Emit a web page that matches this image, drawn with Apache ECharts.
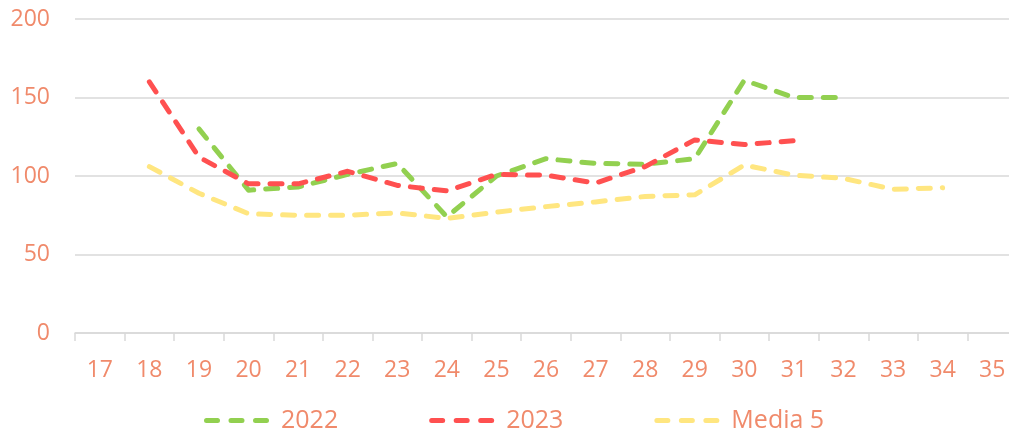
<!DOCTYPE html>
<html>
<head>
<meta charset="utf-8">
<script src="https://cdn.jsdelivr.net/npm/echarts@6/dist/echarts.min.js"></script>
<style>html,body{margin:0;padding:0;background:#fff}#c{width:1009px;height:432px}</style>
</head>
<body>
<div id="c"></div>
<script>
const categories = ['17','18','19','20','21','22','23','24','25','26','27','28','29','30','31','32','33','34','35'];
const s2022 = [null, null, 130, 91, 93, 101, 108, 74, 100, 111, 108, 107.5, 111, 161, 150, 150, null, null, null];
const s2023 = [null, 160, 112, 95, 95, 103, 94, 90.5, 101, 100.5, 95.5, 106, 123, 120, 122.5, null, null, null, null];
const sMedia5 = [null, 106, 89, 76, 75, 75, 76.5, 73, 77, 80.5, 83.5, 87, 88, 107, 100.5, 98.5, 91.5, 92.5, null];
const names = ['2022', '2023', 'Media 5'];
const colors = ['#92D050', '#FF5050', '#FFE680'];
const textColor = '#F08A6B';
const font = '"Open Sans", "Noto Sans", sans-serif';

// legend icon: three rounded dashes
function dash(x0) {
  return 'M' + (x0 + 2.5) + ',0 h11 a2.5,2.5 0 0 1 0,5 h-11 a2.5,2.5 0 0 1 0,-5 Z ';
}
const legendIcon = 'path://' + dash(0) + dash(24.5) + dash(49);

const chart = echarts.init(document.getElementById('c'), null, {renderer: 'canvas'});
const mk = (name, data, color) => ({
  name, type: 'line', data, symbol: 'none', smooth: false, connectNulls: false,
  lineStyle: {color, width: 5, type: [12, 12], cap: 'round', join: 'round'},
  itemStyle: {color}
});
chart.setOption({
  animation: false,
  color: colors,
  grid: {left: 75, width: 942, top: 19, bottom: 99, containLabel: false, outerBoundsMode: 'none'},
  xAxis: {
    type: 'category', data: categories, boundaryGap: true,
    axisLine: {lineStyle: {color: '#D9D9D9', width: 1.5}},
    axisTick: {show: true, length: 8, lineStyle: {color: '#D9D9D9', width: 1.5}},
    axisLabel: {color: textColor, fontSize: 23, fontFamily: font, margin: 26, interval: 0}
  },
  yAxis: {
    type: 'value', min: 0, max: 200, interval: 50,
    axisLine: {show: false}, axisTick: {show: false},
    splitLine: {lineStyle: {color: '#D9D9D9', width: 1.5}},
    axisLabel: {color: textColor, fontSize: 23, fontFamily: font, margin: 25}
  },
  legend: {
    data: names, top: 408, left: 204, padding: 0, itemWidth: 65, itemHeight: 5, itemGap: 91,
    icon: legendIcon,
    textStyle: {color: textColor, fontSize: 25, fontFamily: font, padding: [0, 0, 0, 7]}
  },
  series: [mk(names[0], s2022, colors[0]), mk(names[1], s2023, colors[1]), mk(names[2], sMedia5, colors[2])]
});
</script>
</body>
</html>
